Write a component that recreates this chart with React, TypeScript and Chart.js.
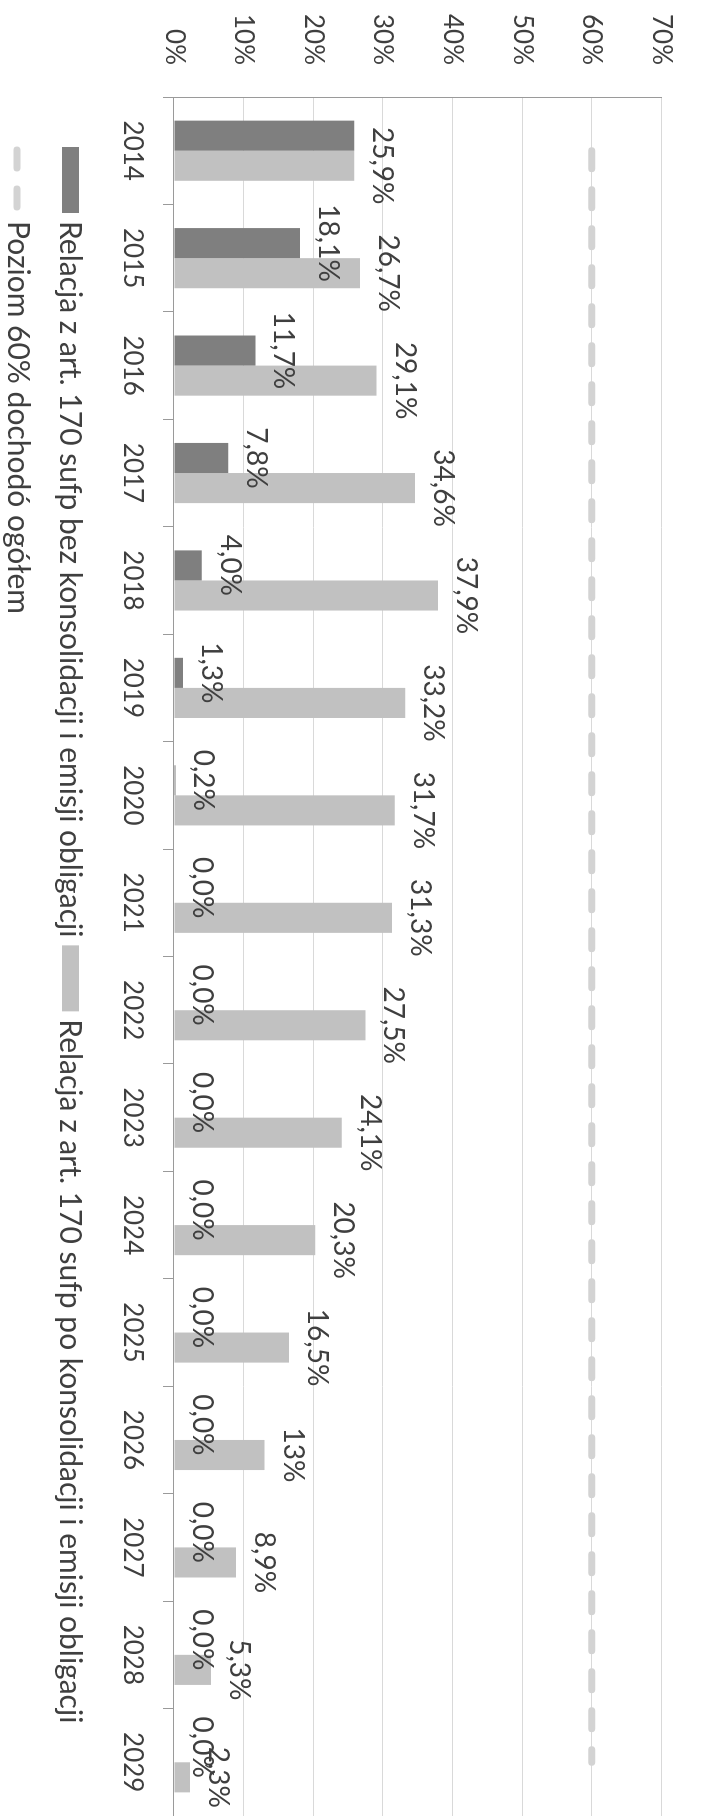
import React, { useEffect, useRef } from "react";
import { Chart, registerables } from "chart.js";

Chart.register(...registerables);

// ---------- data ----------
const years = [
  "2014", "2015", "2016", "2017", "2018", "2019", "2020", "2021",
  "2022", "2023", "2024", "2025", "2026", "2027", "2028", "2029",
];

const seriesNames = [
  "Relacja z art. 170 sufp bez konsolidacji i emisji obligacji",
  "Relacja z art. 170 sufp po konsolidacji i emisji obligacji",
  "Poziom 60% dochodó ogółem",
];

const withoutConsolidation = [25.9, 18.1, 11.7, 7.8, 4.0, 1.3, 0.2, 0, 0, 0, 0, 0, 0, 0, 0, 0];
const withConsolidation = [25.9, 26.7, 29.1, 34.6, 37.9, 33.2, 31.7, 31.3, 27.5, 24.1, 20.3, 16.5, 13, 8.9, 5.3, 2.3];
const limitLevel = [60, 60, 60, 60, 60, 60, 60, 60, 60, 60, 60, 60, 60, 60, 60, 60];

const withoutLabels: (string | null)[] = [
  null, "18,1%", "11,7%", "7,8%", "4,0%", "1,3%", "0,2%", "0,0%",
  "0,0%", "0,0%", "0,0%", "0,0%", "0,0%", "0,0%", "0,0%", "0,0%",
];
const withLabels: (string | null)[] = [
  "25,9%", "26,7%", "29,1%", "34,6%", "37,9%", "33,2%", "31,7%", "31,3%",
  "27,5%", "24,1%", "20,3%", "16,5%", "13%", "8,9%", "5,3%", "2,3%",
];

const yTickLabels = ["0%", "10%", "20%", "30%", "40%", "50%", "60%", "70%"];

// ---------- styles ----------
const FONT = "Lato";
const TEXT = "#3f3f3f";
const AXIS = "#9a9a9a";
const GRID = "#d9d9d9";
const DARK = "#7f7f7f";
const LIGHT = "#c1c1c1";
const DASH = "#d3d3d3";

const W = 1816;
const H = 709;

const barLabelPlugin = {
  id: "barValueLabels",
  afterDatasetsDraw(chart: any) {
    const ctx = chart.ctx;
    const sets = [withoutLabels, withLabels];
    ctx.save();
    ctx.font = `28px ${FONT}`;
    ctx.fillStyle = TEXT;
    ctx.textAlign = "center";
    ctx.textBaseline = "alphabetic";
    sets.forEach((labels, di) => {
      const meta = chart.getDatasetMeta(di);
      meta.data.forEach((el: any, i: number) => {
        const t = labels[i];
        if (t == null) return;
        ctx.fillText(t, el.x, el.y - 19);
      });
    });
    ctx.restore();
  },
};

const legendPlugin = {
  id: "bottomLegend",
  afterDraw(chart: any) {
    const ctx = chart.ctx;
    const size = 30;
    const rows = [[0, 1], [2]];
    const rowCenters = [638.5, 690];
    const startX = 147;
    const boxW = 66;
    const boxH = 17;
    const gapBoxText = 8;
    const gapItems = 8;
    ctx.save();
    ctx.font = `${size}px ${FONT}`;
    ctx.textAlign = "left";
    ctx.textBaseline = "alphabetic";
    rows.forEach((row, r) => {
      let x = startX;
      const cy = rowCenters[r];
      row.forEach((i) => {
        const ds = chart.data.datasets[i];
        if (ds.type === "line") {
          ctx.save();
          ctx.strokeStyle = ds.borderColor;
          ctx.lineWidth = ds.borderWidth;
          ctx.setLineDash(ds.borderDash);
          ctx.lineCap = "round";
          ctx.beginPath();
          ctx.moveTo(x + 3, cy + 2);
          ctx.lineTo(x + boxW, cy + 2);
          ctx.stroke();
          ctx.restore();
        } else {
          ctx.fillStyle = ds.backgroundColor;
          ctx.fillRect(x, cy - boxH / 2, boxW, boxH);
        }
        ctx.fillStyle = TEXT;
        const tx = x + boxW + gapBoxText;
        ctx.fillText(ds.label, tx, cy + 0.36 * size);
        x = tx + ctx.measureText(ds.label).width + gapItems;
      });
    });
    ctx.restore();
  },
};

export default function App() {
  const ref = useRef<HTMLCanvasElement | null>(null);

  useEffect(() => {
    if (!ref.current) return;
    const chart = new Chart(ref.current, {
      type: "bar",
      data: {
        labels: years,
        datasets: [
          {
            type: "bar",
            label: seriesNames[0],
            data: withoutConsolidation,
            backgroundColor: DARK,
            borderWidth: 0,
            categoryPercentage: 0.56,
            barPercentage: 1,
            order: 2,
          },
          {
            type: "bar",
            label: seriesNames[1],
            data: withConsolidation,
            backgroundColor: LIGHT,
            borderWidth: 0,
            categoryPercentage: 0.56,
            barPercentage: 1,
            order: 2,
          },
          {
            type: "line",
            label: seriesNames[2],
            data: limitLevel,
            borderColor: DASH,
            backgroundColor: DASH,
            borderWidth: 7,
            borderDash: [18, 21],
            borderCapStyle: "round",
            pointRadius: 0,
            fill: false,
            order: 1,
          },
        ] as any,
      },
      options: {
        responsive: false,
        animation: false,
        devicePixelRatio: 1,
        layout: { padding: { left: 0, right: 0, top: 24, bottom: 100 } },
        plugins: {
          legend: { display: false },
          tooltip: { enabled: false },
        },
        scales: {
          x: {
            grid: {
              offset: true,
              drawOnChartArea: false,
              drawTicks: true,
              tickLength: 11,
              color: AXIS,
            },
            border: { display: true, color: AXIS, width: 1 },
            ticks: {
              font: { family: FONT, size: 26 },
              color: TEXT,
              padding: 15,
              maxRotation: 0,
              autoSkip: false,
            },
            afterFit: (scale: any) => {
              scale.height = 74;
            },
          },
          y: {
            min: 0,
            max: 70,
            ticks: {
              stepSize: 10,
              font: { family: FONT, size: 26 },
              color: TEXT,
              padding: 32,
              callback: (_v: any, i: number) => yTickLabels[i],
            },
            grid: {
              drawTicks: false,
              color: (c: any) => (c.tick && c.tick.value === 0 ? "rgba(0,0,0,0)" : GRID),
            },
            border: { display: true, color: AXIS, width: 1 },
            afterFit: (scale: any) => {
              scale.width = 97;
            },
          },
        },
      } as any,
      plugins: [barLabelPlugin, legendPlugin],
    });
    return () => chart.destroy();
  }, []);

  return (
    <div
      style={{
        position: "absolute",
        left: 0,
        top: 0,
        width: H,
        height: W,
        overflow: "hidden",
        background: "#ffffff",
      }}
    >
      <div
        style={{
          position: "absolute",
          left: 0,
          top: 0,
          width: W,
          height: H,
          transformOrigin: "0 0",
          transform: `translate(${H}px, 0px) rotate(90deg)`,
        }}
      >
        <canvas ref={ref} width={W} height={H} style={{ display: "block", width: W, height: H }} />
      </div>
    </div>
  );
}
